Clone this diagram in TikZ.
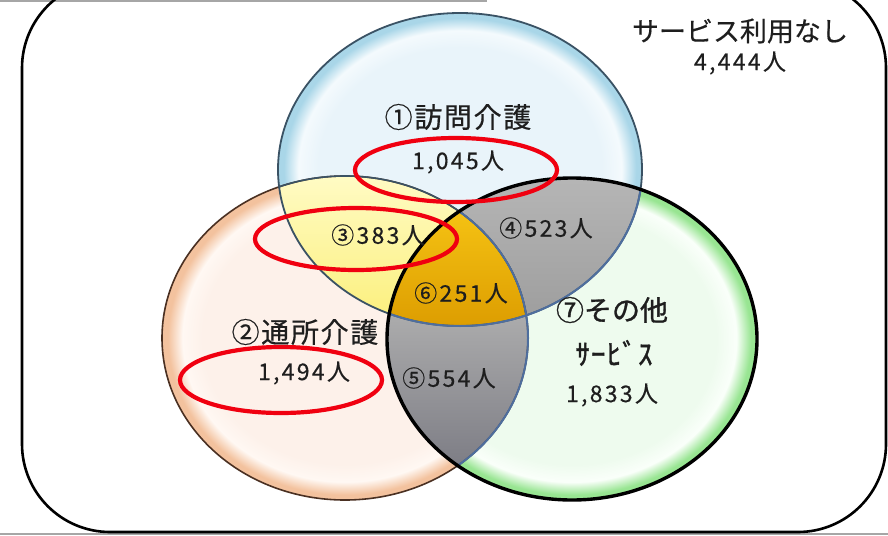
\documentclass[tikz,border=0pt]{standalone}
\usepackage{fontspec}
\setmainfont{Noto Sans CJK JP}
\newfontfamily\medfont[FakeBold=0.45]{Noto Sans CJK JP}
\newfontfamily\medfontsp[FakeBold=0.45,LetterSpace=10]{Noto Sans CJK JP}
\newfontfamily\titlefont[FakeBold=0.45,LetterSpace=6]{Noto Sans CJK JP}
\newfontfamily\semifont[FakeBold=1.1]{Noto Sans CJK JP}
\newfontfamily\hankfont[FakeBold=1.4,LetterSpace=4]{Noto Sans CJK JP}
\usetikzlibrary{shapes.geometric}
\definecolor{blueIn}{HTML}{E9F4FA}
\definecolor{blueHi}{HTML}{F4FAFD}
\definecolor{blueRim}{HTML}{A9D6E8}
\definecolor{orIn}{HTML}{FDF1EA}
\definecolor{orHi}{HTML}{FFF8F3}
\definecolor{orRim}{HTML}{F3C29E}
\definecolor{grIn}{HTML}{EEFBEE}
\definecolor{grHi}{HTML}{FAFFFA}
\definecolor{grRim}{HTML}{98E592}
\definecolor{yelTop}{HTML}{FFFBC4}
\definecolor{yelBot}{HTML}{FBEF78}
\definecolor{goldTop}{HTML}{F6C414}
\definecolor{goldBot}{HTML}{DC9C00}
\definecolor{grayTop}{HTML}{B6B6B6}
\definecolor{grayBot}{HTML}{9C9C9C}
\definecolor{gray5Top}{HTML}{B0B0B0}
\definecolor{gray5Bot}{HTML}{7C7C84}
\definecolor{slateLine}{HTML}{3A5264}
\definecolor{brownLine}{HTML}{4A3022}
\definecolor{steelLine}{HTML}{4E6E9E}
\definecolor{markRed}{HTML}{F00010}
\definecolor{txt}{HTML}{1E1E1E}
\pgfdeclareradialshading{shA}{\pgfpoint{0bp}{0bp}}{color(0bp)=(blueIn); color(19.5bp)=(blueIn); color(22.2bp)=(blueHi); color(24.2bp)=(blueRim); color(25bp)=(blueRim); color(50bp)=(blueRim)}
\pgfdeclareradialshading{shB}{\pgfpoint{0bp}{0bp}}{color(0bp)=(orIn); color(19.5bp)=(orIn); color(22.2bp)=(orHi); color(24.2bp)=(orRim); color(25bp)=(orRim); color(50bp)=(orRim)}
\pgfdeclareradialshading{shC}{\pgfpoint{0bp}{0bp}}{color(0bp)=(grIn); color(19.5bp)=(grIn); color(22.2bp)=(grHi); color(24.2bp)=(grRim); color(25bp)=(grRim); color(50bp)=(grRim)}
\tikzset{
  lbl/.style={text=txt, inner sep=0pt, font=\medfontsp\fontsize{23}{26}\selectfont},
  title/.style={text=txt, inner sep=0pt, font=\titlefont\fontsize{28}{30}\selectfont},
  redring/.style={draw=markRed, line width=4.2pt, ellipse, inner sep=0pt},
}
\def\cA{(460,169.5) ellipse [x radius=182pt, y radius=156.5pt]}
\def\cB{(345,338) ellipse [x radius=183pt, y radius=162pt]}
\def\cC{(572,339) ellipse [x radius=185pt, y radius=161pt]}
\begin{document}
\begin{tikzpicture}[x=1pt,y=-1pt]
\useasboundingbox (0,0) rectangle (888,535);
\fill[white] (0,0) rectangle (888,535);
\draw[black!35, line width=1.2pt] (0,1) -- (487,1);
\draw[black!35, line width=1.2pt] (0,534) -- (888,534);
\draw[line width=2.6pt, rounded corners=88pt] (22,-20) rectangle (886,532);
% circles
\shade[shading=shB] \cB;
\shade[shading=shA] \cA;
\shade[shading=shC] \cC;
% region 3
\begin{scope}
\clip \cA; \clip \cB;
\shade[top color=yelTop, bottom color=yelBot] (270,175) rectangle (480,330);
\end{scope}
% region 4
\begin{scope}
\clip \cA; \clip \cC;
\shade[top color=grayTop, bottom color=grayBot] (440,175) rectangle (650,330);
\end{scope}
% region 5
\begin{scope}
\clip \cB; \clip \cC;
\shade[top color=gray5Top, bottom color=gray5Bot] (380,300) rectangle (535,470);
\end{scope}
% region 6
\begin{scope}
\clip \cA; \clip \cB; \clip \cC;
\shade[top color=goldTop, bottom color=goldBot] (380,205) rectangle (535,330);
\end{scope}
% borders
\draw[brownLine, line width=1.6pt] \cB;
\draw[slateLine, line width=1.8pt] \cA;
\begin{scope}
\clip \cA;
\draw[slateLine, line width=1.6pt] \cB;
\end{scope}
\begin{scope}
\clip \cC;
\draw[steelLine, line width=2pt] \cA;
\draw[steelLine, line width=2pt] \cB;
\end{scope}
\draw[black, line width=3.4pt] \cC;
% texts
\node[text=txt, inner sep=0pt, font=\medfont\fontsize{27}{30}\selectfont] (none1) at (740,31) {サービス利用なし};
\node[lbl] (none2) at (740,63) {4,444人};
\node[title] (t1) at (458,117) {①訪問介護};
\node[lbl] (n1) at (458,162) {1,045人};
\node[lbl] (n3) at (378,235) {③383人};
\node[lbl] (n4) at (546,228) {④523人};
\node[lbl] (n6) at (461,293) {⑥251人};
\node[title] (t2) at (305,332) {②通所介護};
\node[lbl] (n2) at (304,373) {1,494人};
\node[lbl] (n5) at (449,378) {⑤554人};
\node[text=txt, inner sep=0pt, font=\semifont\fontsize{28}{30}\selectfont] (t7) at (612,310) {⑦その他};
\node[text=txt, inner sep=0pt, font=\hankfont\fontsize{29}{30}\selectfont] (t7b) at (614,353) {ｻｰﾋﾞｽ};
\node[lbl] (n7) at (612,395) {1,833人};
% red marks
\node[redring, minimum width=202pt, minimum height=64pt] (r1) at (456,170) {};
\node[redring, minimum width=202pt, minimum height=62pt] (r3) at (356,239) {};
\node[redring, minimum width=202pt, minimum height=66pt] (r2) at (281,380) {};
\end{tikzpicture}
\end{document}
